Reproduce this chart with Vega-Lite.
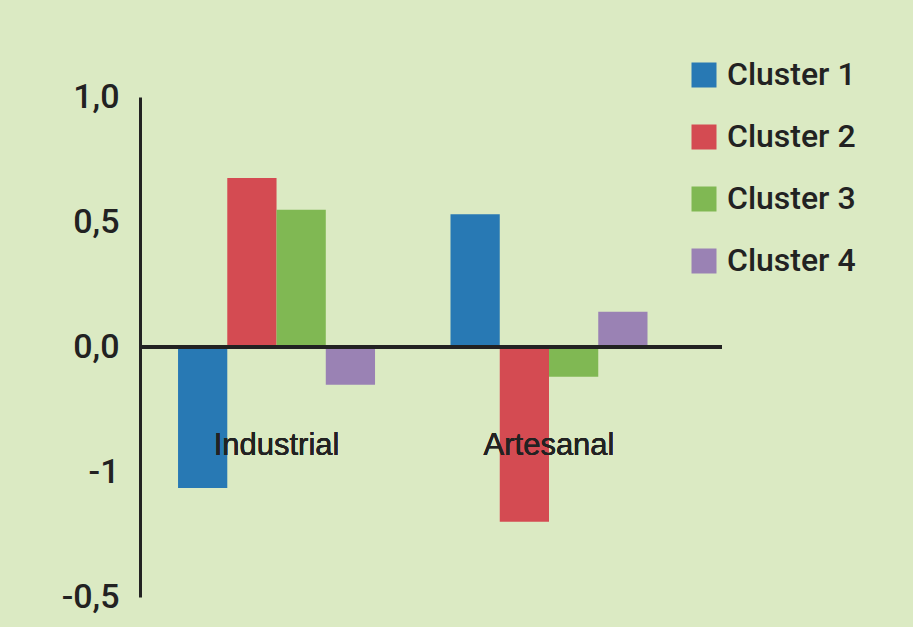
{
  "$schema": "https://vega.github.io/schema/vega-lite/v6.json",
  "autosize": "none",
  "width": 582,
  "height": 500,
  "padding": {"left": 140, "top": 97, "right": 191, "bottom": 30},
  "background": "#dbeac3",
  "config": {
    "view": {"stroke": null},
    "font": "Liberation Sans"
  },
  "data": {
    "values": [
      {"tipo": "Industrial", "cluster": "Cluster 1", "valor": -0.564},
      {"tipo": "Industrial", "cluster": "Cluster 2", "valor": 0.676},
      {"tipo": "Industrial", "cluster": "Cluster 3", "valor": 0.549},
      {"tipo": "Industrial", "cluster": "Cluster 4", "valor": -0.151},
      {"tipo": "Artesanal", "cluster": "Cluster 1", "valor": 0.531},
      {"tipo": "Artesanal", "cluster": "Cluster 2", "valor": -0.699},
      {"tipo": "Artesanal", "cluster": "Cluster 3", "valor": -0.119},
      {"tipo": "Artesanal", "cluster": "Cluster 4", "valor": 0.141}
    ]
  },
  "encoding": {
    "x": {
      "field": "tipo",
      "type": "nominal",
      "sort": ["Industrial", "Artesanal"],
      "scale": {"paddingInner": 0.277, "paddingOuter": 0.2065, "align": 0.338},
      "axis": null
    }
  },
  "layer": [
    {
      "mark": {"type": "bar", "stroke": null},
      "encoding": {
        "xOffset": {"field": "cluster", "type": "nominal", "scale": {"paddingInner": 0, "paddingOuter": 0}},
        "y": {
          "field": "valor",
          "type": "quantitative",
          "scale": {"domain": [-1, 1], "nice": false, "zero": false},
          "axis": {
            "title": null,
            "values": [1, 0.5, 0, -0.5, -1],
            "labelExpr": "datum.value == 1 ? '1,0' : datum.value == 0.5 ? '0,5' : datum.value == 0 ? '0,0' : datum.value == -0.5 ? '-1' : '-0,5'",
            "grid": false,
            "ticks": false,
            "domainColor": "#222222",
            "domainWidth": 3,
            "labelFontSize": 34,
            "labelFontWeight": 500,
            "labelColor": "#222222",
            "labelPadding": 21,
            "labelFont": "Roboto"
          }
        },
        "color": {
          "field": "cluster",
          "type": "nominal",
          "scale": {
            "domain": ["Cluster 1", "Cluster 2", "Cluster 3", "Cluster 4"],
            "range": ["#2879b4", "#d44b52", "#80b853", "#9a82b4"]
          },
          "legend": {
            "title": null,
            "orient": "none",
            "legendX": 548,
            "legendY": -38,
            "padding": 0,
            "symbolType": "square",
            "symbolSize": 625,
            "symbolStrokeWidth": 0,
            "labelFontSize": 32,
            "labelFontWeight": 500,
            "labelColor": "#222222",
            "labelOffset": 7,
            "rowPadding": 30,
            "labelFont": "Roboto"
          }
        }
      }
    },
    {
      "mark": {"type": "rule", "color": "#222222", "strokeWidth": 3},
      "encoding": {"y": {"datum": 0}, "x": null}
    },
    {
      "mark": {"type": "text", "fontSize": 31, "color": "#222222", "baseline": "middle", "align": "center"},
      "encoding": {
        "y": {"datum": -0.395},
        "text": {"field": "tipo"}
      }
    }
  ]
}
